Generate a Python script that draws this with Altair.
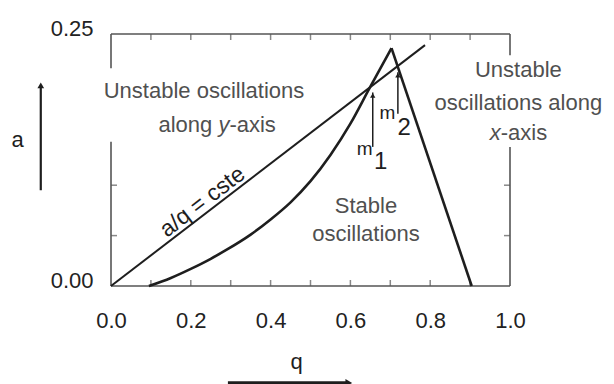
import altair as alt
import pandas as pd

FONT = "Liberation Sans"
INK = "#1e1e1e"
GREY_TXT = "#505050"
FRAME = "#555555"

# ---- data ----
q_domain = [0.0, 1.0]
a_domain = [0.0, 0.25]

lower_q = [0.095, 0.15, 0.20, 0.25, 0.29, 0.35, 0.40, 0.45, 0.50, 0.55, 0.60, 0.649, 0.703]
lower_a = [0.000, 0.008, 0.017, 0.027, 0.036, 0.051, 0.066, 0.083, 0.104, 0.130, 0.161, 0.197, 0.236]
right_q = [0.703, 0.904]
right_a = [0.236, 0.000]
line_q = [0.0, 0.787]
line_a = [0.0, 0.239]

x_tick_labels = [0.0, 0.2, 0.4, 0.6, 0.8, 1.0]
y_tick_labels = [0.0, 0.25]
top_ticks = [0.1, 0.2, 0.3, 0.4, 0.5, 0.6, 0.7, 0.8, 0.9]
bottom_ticks = [0.1, 0.2, 0.3, 0.4, 0.5, 0.6, 0.7, 0.8, 0.9]
side_ticks = [0.05, 0.10]

# frame segments (q1, a1, q2, a2); gaps where the labels cross the frame
frame_q1 = [0.0, 0.0, 0.0, 0.0, 1.0, 1.0]
frame_a1 = [0.25, 0.0, 0.0, 0.216, 0.0, 0.229]
frame_q2 = [1.0, 1.0, 0.0, 0.0, 1.0, 1.0]
frame_a2 = [0.25, 0.0, 0.143, 0.25, 0.138, 0.25]

# m1 / m2 arrows
arrow_q = [0.656, 0.719]
arrow_a_from = [0.138, 0.171]
arrow_a_to = [0.192, 0.212]

xs = alt.Scale(domain=q_domain, nice=False, zero=False)
ys = alt.Scale(domain=a_domain, nice=False, zero=False)

X_AXIS = alt.Axis(values=x_tick_labels, format=".1f", domain=False, ticks=False, title=None,
                  grid=False, labelFontSize=22, labelFont=FONT, labelColor="#222222",
                  labelPadding=24, labelFlush=False)
Y_AXIS = alt.Axis(values=y_tick_labels, format=".2f", domain=False, ticks=False, title=None,
                  grid=False, labelFontSize=22, labelFont=FONT, labelColor="#222222",
                  labelPadding=18, labelOffset=-6, labelFlush=False)

def X(field="q"):
    return alt.X(f"{field}:Q", scale=xs, axis=X_AXIS)

def Y(field="a"):
    return alt.Y(f"{field}:Q", scale=ys, axis=Y_AXIS)

frame_df = pd.DataFrame({"q": frame_q1, "a": frame_a1, "q2": frame_q2, "a2": frame_a2})
frame = alt.Chart(frame_df).mark_rule(color=FRAME, strokeWidth=1.6).encode(
    x=X(), y=Y(), x2="q2:Q", y2="a2:Q")

top_t = alt.Chart(pd.DataFrame({"q": top_ticks, "a": [0.25] * len(top_ticks)})).mark_tick(
    orient="vertical", size=6, thickness=1.5, color=FRAME, yOffset=3).encode(x=X(), y=Y())
bot_t = alt.Chart(pd.DataFrame({"q": bottom_ticks, "a": [0.0] * len(bottom_ticks)})).mark_tick(
    orient="vertical", size=6, thickness=1.5, color=FRAME, yOffset=-3).encode(x=X(), y=Y())
left_t = alt.Chart(pd.DataFrame({"q": [0.0] * len(side_ticks), "a": side_ticks})).mark_tick(
    orient="horizontal", size=6, thickness=1.5, color=FRAME, xOffset=3).encode(x=X(), y=Y())
right_t = alt.Chart(pd.DataFrame({"q": [1.0] * len(side_ticks), "a": side_ticks})).mark_tick(
    orient="horizontal", size=6, thickness=1.5, color=FRAME, xOffset=-3).encode(x=X(), y=Y())

curves_df = pd.concat([
    pd.DataFrame({"q": lower_q, "a": lower_a, "s": "lower", "o": range(len(lower_q))}),
    pd.DataFrame({"q": right_q, "a": right_a, "s": "right", "o": range(len(right_q))}),
], ignore_index=True)
curves = alt.Chart(curves_df).mark_line(color=INK, strokeWidth=2.6, interpolate="monotone").encode(
    x=X(), y=Y(), detail="s:N", order="o:Q")

line_df = pd.DataFrame({"q": line_q, "a": line_a})
aq_line = alt.Chart(line_df).mark_line(color=INK, strokeWidth=2.0).encode(x=X(), y=Y())

arr_df = pd.DataFrame({"q": arrow_q, "a": arrow_a_from, "a2": arrow_a_to})
arrows = alt.Chart(arr_df).mark_rule(color=INK, strokeWidth=1.5).encode(x=X(), y=Y(), y2="a2:Q")
heads = alt.Chart(arr_df).mark_point(shape="triangle-up", filled=True, size=28, color=INK,
                                     opacity=1, yOffset=3).encode(x=X(), y=Y("a2"))

def texts(qs, as_, labels, **props):
    df = pd.DataFrame({"q": qs, "a": as_, "t": labels})
    base = dict(font=FONT, fontSize=22, color=GREY_TXT, align="center", baseline="alphabetic")
    base.update(props)
    return alt.Chart(df).mark_text(**base).encode(x=X(), y=Y(), text="t:N")

left_txt = texts([0.233], [0.1865], ["Unstable oscillations"])
left_txt2a = texts([0.2539], [0.1528], ["along"], align="right")
left_txt2b = texts([0.2692], [0.1528], ["y"], align="left", fontStyle="italic")
left_txt2c = texts([0.2967], [0.1528], ["-axis"], align="left")
right_txt = texts([1.021, 1.021], [0.2073, 0.1746], ["Unstable", "oscillations along"])
right_txt3a = texts([0.9494], [0.1448], ["x"], align="left", fontStyle="italic")
right_txt3b = texts([0.9769], [0.1448], ["-axis"], align="left")
stable_txt = texts([0.639, 0.639], [0.0724, 0.0446], ["Stable", "oscillations"])
aq_txt = texts([0.246], [0.0748], ["a/q = cste"], angle=322.5, dy=-4, color=INK, fontSize=23)
m_txt = texts([0.636, 0.693], [0.130, 0.166], ["m", "m"], fontSize=19, color=INK)
m_num = texts([0.676, 0.735], [0.116, 0.150], ["1", "2"], fontSize=24, color=INK)
a_lab = texts([-0.234], [0.138], ["a"], fontSize=22, color=INK)
q_lab = texts([0.465], [-0.0823], ["q"], fontSize=22, color=INK)

# axis direction arrows
a_arrow_df = pd.DataFrame({"q": [-0.176], "a": [0.095], "a2": [0.198]})
a_arrow = alt.Chart(a_arrow_df).mark_rule(color=INK, strokeWidth=2.2).encode(x=X(), y=Y(), y2="a2:Q")
a_head = alt.Chart(pd.DataFrame({"q": [-0.176], "a": [0.202]})).mark_point(
    shape="triangle-up", filled=True, size=45, color=INK, opacity=1, yOffset=3).encode(x=X(), y=Y())
q_arrow_df = pd.DataFrame({"q": [0.293], "q2": [0.590], "a": [-0.0962]})
q_arrow = alt.Chart(q_arrow_df).mark_rule(color=INK, strokeWidth=3.5).encode(x=X(), x2="q2:Q", y=Y())
q_head = alt.Chart(pd.DataFrame({"q": [0.596], "a": [-0.0962]})).mark_point(
    shape="triangle-right", filled=True, size=60, color=INK, opacity=1).encode(x=X(), y=Y())

chart = alt.layer(
    frame, top_t, bot_t, left_t, right_t, curves, aq_line, arrows, heads,
    left_txt, left_txt2a, left_txt2b, left_txt2c, right_txt, right_txt3a, right_txt3b,
    stable_txt, aq_txt, m_txt, m_num, a_lab, q_lab,
    a_arrow, a_head, q_arrow, q_head,
).properties(
    width=399, height=252,
    autosize=alt.AutoSizeParams(type="none"),
    padding={"left": 103, "top": 26, "right": 96, "bottom": 98},
    background="white",
).configure_view(stroke=None)

chart.save("out.html", embed_options={"renderer": "svg", "actions": False})
